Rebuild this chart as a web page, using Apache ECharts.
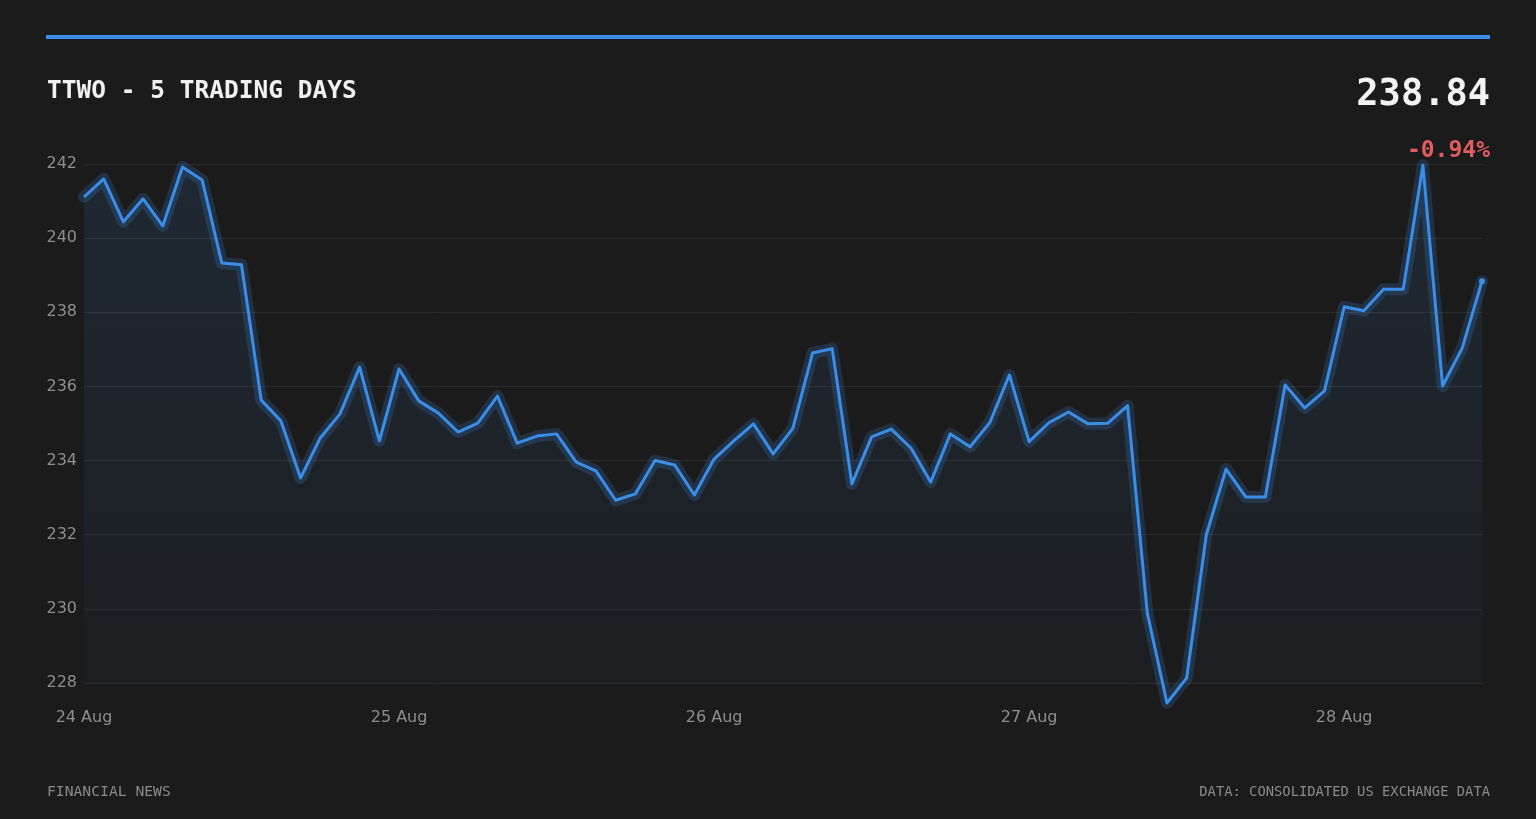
<!DOCTYPE html>
<html>
<head>
<meta charset="utf-8">
<title>TTWO - 5 Trading Days</title>
<script src="https://cdn.jsdelivr.net/npm/echarts@6/dist/echarts.min.js"></script>
<style>
  html, body { margin: 0; padding: 0; background: #1b1b1b; }
  #chart { width: 1536px; height: 819px; }
</style>
</head>
<body>
<div id="chart"></div>
<script>
// session labels, one label per trading day
const days = ['24 Aug', '25 Aug', '26 Aug', '27 Aug', '28 Aug']
const pointsPerDay = 16

// prices, in time order
const prices = [
  241.11, 241.60, 240.44, 241.06, 240.33, 241.92, 241.57, 239.33, 239.28, 235.63,
  235.07, 233.53, 234.61, 235.26, 236.52, 234.53, 236.47, 235.61, 235.28, 234.77,
  235.01, 235.74, 234.47, 234.66, 234.72, 233.96, 233.72, 232.93, 233.10, 234.00,
  233.88, 233.07, 234.04, 234.53, 234.99, 234.18, 234.87, 236.90, 237.02, 233.37,
  234.64, 234.85, 234.34, 233.42, 234.72, 234.37, 235.02, 236.31, 234.51, 235.02,
  235.31, 234.99, 235.01, 235.48, 229.89, 227.46, 228.13, 232.00, 233.77, 233.02,
  233.02, 236.04, 235.42, 235.88, 238.15, 238.04, 238.62, 238.62, 241.97, 236.01,
  237.04, 238.84
]

const yTicks = { min: 228, max: 242, step: 2 }
const headline = { title: 'TTWO - 5 TRADING DAYS', last: '238.84', change: '-0.94%' }
const footer = { left: 'FINANCIAL NEWS', right: 'DATA: CONSOLIDATED US EXCHANGE DATA' }

const categories = prices.map((p, i) => {
  const d = Math.floor(i / pointsPerDay)
  return i % pointsPerDay === 0 ? days[d] : days[d] + ' ' + (i % pointsPerDay)
})

const BLUE = '#3a8ee8'
const MONO = '"DejaVu Sans Mono", "Liberation Mono", monospace'
const SANS = '"DejaVu Sans", "Noto Sans", sans-serif'

const chart = echarts.init(document.getElementById('chart'), null, { renderer: 'canvas' })

chart.setOption({
  backgroundColor: '#1b1b1b',
  animation: false,
  grid: { left: 84, right: 54, top: 164, bottom: 136, containLabel: false },
  xAxis: {
    type: 'category',
    data: categories,
    boundaryGap: false,
    axisLine: { show: false },
    axisTick: { show: false },
    splitLine: { show: false },
    axisLabel: {
      interval: (idx) => idx % pointsPerDay === 0,
      formatter: (v) => v.split(' ').slice(0, 2).join(' '),
      color: '#8e8e8e',
      fontFamily: SANS,
      fontSize: 16,
      margin: 27
    }
  },
  yAxis: {
    type: 'value',
    min: yTicks.min,
    max: yTicks.max,
    interval: yTicks.step,
    axisLine: { show: false },
    axisTick: { show: false },
    axisLabel: { color: '#8e8e8e', fontFamily: SANS, fontSize: 16, margin: 7 },
    splitLine: { lineStyle: { color: '#2d2d2d', width: 1 } }
  },
  series: [
    {
      // soft halo under the main line
      type: 'line',
      data: prices,
      clip: false,
      symbol: 'none',
      silent: true,
      lineStyle: { color: 'rgba(58,142,232,0.2)', width: 12, join: 'round', cap: 'round' },
      areaStyle: {
        color: new echarts.graphic.LinearGradient(0, 0, 0, 1, [
          { offset: 0, color: 'rgba(58,142,232,0.17)' },
          { offset: 1, color: 'rgba(58,142,232,0.03)' }
        ])
      },
      z: 1
    },
    {
      type: 'line',
      data: prices.map((p, i) => (i === prices.length - 1 ? { value: p, symbol: 'circle', symbolSize: 6 } : p)),
      clip: false,
      symbol: 'none',
      showSymbol: true,
      lineStyle: { color: BLUE, width: 3, join: 'round' },
      itemStyle: { color: BLUE, borderWidth: 0 },
      z: 3
    }
  ],
  graphic: [
    { type: 'rect', shape: { x: 46, y: 35, width: 1444, height: 4 }, style: { fill: BLUE } },
    {
      type: 'text', left: 47, top: 79,
      style: { text: headline.title, fill: '#f0f0f0', font: 'bold 24.5px ' + MONO }
    },
    {
      type: 'text', right: 46, top: 77,
      style: { text: headline.last, fill: '#f2f2f2', font: 'bold 37px ' + MONO, textAlign: 'right' }
    },
    {
      type: 'text', right: 46, top: 140,
      style: { text: headline.change, fill: '#e05d5d', font: 'bold 23px ' + MONO, textAlign: 'right' }
    },
    {
      type: 'text', left: 47, top: 785,
      style: { text: footer.left, fill: '#8a8a8a', font: '14.7px ' + MONO }
    },
    {
      type: 'text', right: 46, top: 785,
      style: { text: footer.right, fill: '#8a8a8a', font: '13.8px ' + MONO, textAlign: 'right' }
    }
  ]
})
</script>
</body>
</html>
